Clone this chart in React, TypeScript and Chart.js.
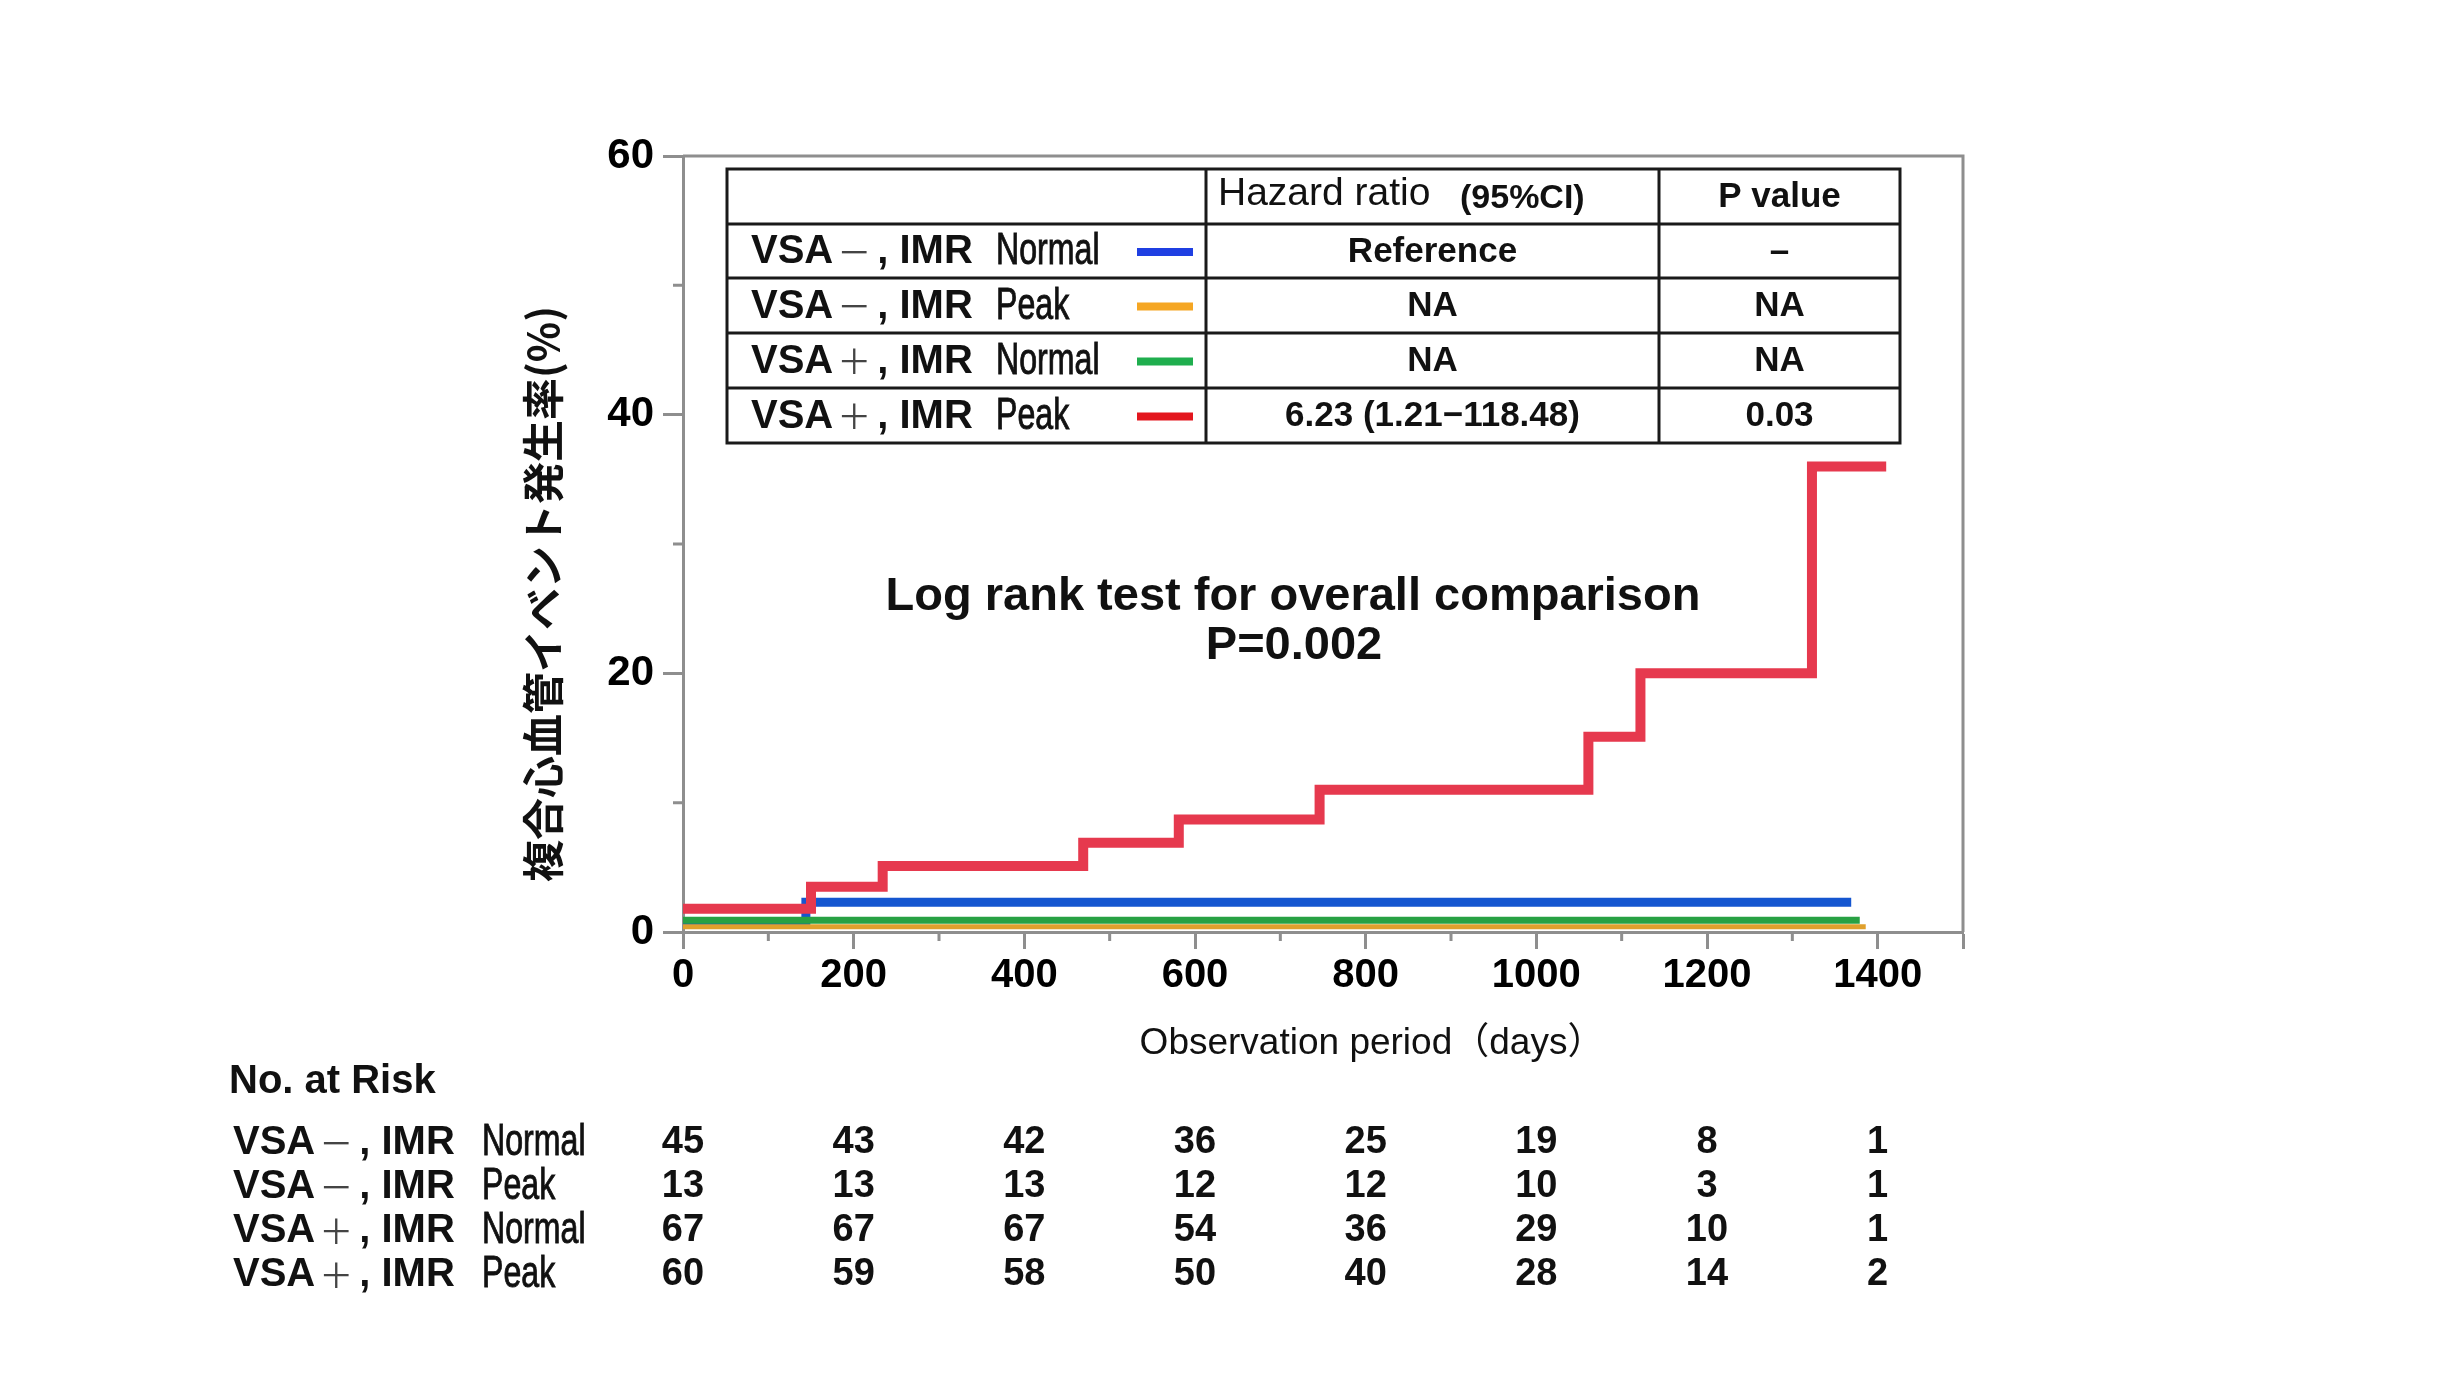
import React, { useEffect, useRef } from 'react';
import { Chart, registerables } from 'chart.js';

Chart.register(...registerables);

// ---------- data ----------
const groupLabels = ['VSA－, IMR', 'VSA－, IMR', 'VSA＋, IMR', 'VSA＋, IMR'];
const groupSubLabels = ['Normal', 'Peak', 'Normal', 'Peak'];
const seriesColors = ['#1556d0', '#e0a02c', '#28a143', '#e6394e'];
const swatchColors = ['#1f3fe2', '#f5a623', '#1fae4e', '#e3161e'];

const normalNegDays = [0, 144, 1369];
const normalNegPct = [0.8, 2.3, 2.3];
const peakNegDays = [0, 1386];
const peakNegPct = [0.4, 0.4];
const normalPosDays = [0, 1379];
const normalPosPct = [0.9, 0.9];
const peakPosDays = [0, 150, 234, 469, 581, 746, 1061, 1122, 1323, 1410];
const peakPosPct = [1.8, 3.5, 5.1, 6.9, 8.7, 11.0, 15.1, 20.0, 36.0, 36.0];

const hazardRatios = ['Reference', 'NA', 'NA', '6.23 (1.21−118.48)'];
const pValues = ['–', 'NA', 'NA', '0.03'];

const riskDays = [0, 200, 400, 600, 800, 1000, 1200, 1400];
const riskNormalNeg = [45, 43, 42, 36, 25, 19, 8, 1];
const riskPeakNeg = [13, 13, 13, 12, 12, 10, 3, 1];
const riskNormalPos = [67, 67, 67, 54, 36, 29, 10, 1];
const riskPeakPos = [60, 59, 58, 50, 40, 28, 14, 2];

const yTitle = '複合心血管イベント発生率(%)';
const xTitle = 'Observation period（days）';
const logRankLines = ['Log rank test for overall comparison', 'P=0.002'];
const riskTitle = 'No. at Risk';
const hrHeader = 'Hazard ratio';
const ciHeader = '(95%CI)';
const pHeader = 'P value';

// ---------- helpers ----------
const FONT = '"Liberation Sans", Arial, "Noto Sans CJK JP", sans-serif';
const CJK = '"Noto Sans CJK JP", "Noto Sans CJK SC", sans-serif';
const AXIS_GRAY = '#8e8e8e';
const INK = '#111';

const zip = (xs: number[], ys: number[]) => xs.map((x, i) => ({ x, y: ys[i] }));

function narrowText(ctx: CanvasRenderingContext2D, text: string, x: number, y: number, sx: number) {
  ctx.save();
  ctx.translate(x, y);
  ctx.scale(sx, 1);
  ctx.textAlign = 'left';
  ctx.fillText(text, 0, 0);
  ctx.lineWidth = 0.9;
  ctx.strokeStyle = ctx.fillStyle as string;
  ctx.strokeText(text, 0, 0);
  ctx.restore();
}

function groupLabel(ctx: CanvasRenderingContext2D, label: string, x: number, y: number) {
  const head = label.slice(0, 3);
  const sign = label.slice(3, 4);
  const rest = label.slice(4);
  ctx.save();
  ctx.textAlign = 'left';
  ctx.fillStyle = INK;
  ctx.font = `bold 40px ${FONT}`;
  ctx.fillText(head, x, y);
  const w = ctx.measureText(head).width;
  ctx.font = `400 34px ${CJK}`;
  ctx.fillStyle = '#444';
  ctx.textAlign = 'center';
  ctx.fillText(sign, x + w + 21, y);
  ctx.fillStyle = INK;
  ctx.textAlign = 'left';
  ctx.font = `bold 40px ${FONT}`;
  ctx.fillText(rest, x + w + 44, y);
  ctx.restore();
}

const overlayPlugin = {
  id: 'overlay',
  afterDraw(chart: any) {
    const ctx: CanvasRenderingContext2D = chart.ctx;
    const area = chart.chartArea;
    const xs = chart.scales.x;
    const ys = chart.scales.y;
    ctx.save();

    // frame top & right
    ctx.strokeStyle = AXIS_GRAY;
    ctx.lineWidth = 3;
    ctx.beginPath();
    ctx.moveTo(area.left, area.top);
    ctx.lineTo(area.right, area.top);
    ctx.lineTo(area.right, area.bottom);
    ctx.stroke();

    // minor ticks
    ctx.beginPath();
    xs.ticks.forEach((t: any) => {
      const v = t.value;
      if (v % 200 !== 0 && v !== 1500) {
        const px = xs.getPixelForValue(v);
        ctx.moveTo(px, area.bottom);
        ctx.lineTo(px, area.bottom + 9);
      }
    });
    ys.ticks.forEach((t: any) => {
      const v = t.value;
      if (v % 20 !== 0) {
        const py = ys.getPixelForValue(v);
        ctx.moveTo(area.left, py);
        ctx.lineTo(area.left - 10, py);
      }
    });
    ctx.stroke();

    ctx.fillStyle = INK;

    // y title
    ctx.save();
    ctx.translate(543, 594);
    ctx.rotate(-Math.PI / 2);
    ctx.font = `bold 42px ${CJK}`;
    ctx.textAlign = 'center';
    ctx.textBaseline = 'middle';
    ctx.fillText(yTitle, 0, 0);
    ctx.restore();

    // x title
    ctx.font = `37px ${FONT}`;
    ctx.textAlign = 'center';
    ctx.textBaseline = 'middle';
    ctx.fillText(xTitle, 1372, 1044);

    // log rank annotation
    ctx.font = `bold 47px ${FONT}`;
    ctx.fillText(logRankLines[0], 1293, 597);
    ctx.fillText(logRankLines[1], 1294, 646);

    // ---- hazard table ----
    const L = 727, R = 1900, C1 = 1206, C2 = 1659;
    const rows = [169, 224, 278, 333, 388, 443];
    ctx.fillStyle = '#fff';
    ctx.fillRect(L, rows[0], R - L, rows[5] - rows[0]);
    ctx.strokeStyle = '#1a1a1a';
    ctx.lineWidth = 3;
    ctx.strokeRect(L, rows[0], R - L, rows[5] - rows[0]);
    ctx.beginPath();
    for (let i = 1; i < 5; i++) {
      ctx.moveTo(L, rows[i]);
      ctx.lineTo(R, rows[i]);
    }
    ctx.moveTo(C1, rows[0]);
    ctx.lineTo(C1, rows[5]);
    ctx.moveTo(C2, rows[0]);
    ctx.lineTo(C2, rows[5]);
    ctx.stroke();

    ctx.fillStyle = INK;
    ctx.textBaseline = 'middle';
    ctx.textAlign = 'left';
    ctx.font = `39px ${FONT}`;
    ctx.fillText(hrHeader, 1218, 194);
    ctx.font = `bold 34px ${FONT}`;
    ctx.fillText(ciHeader, 1460, 199);
    ctx.textAlign = 'center';
    ctx.font = `bold 35px ${FONT}`;
    ctx.fillText(pHeader, (C2 + R) / 2, 197);

    for (let i = 0; i < 4; i++) {
      const cy = (rows[i + 1] + rows[i + 2]) / 2 + 1;
      groupLabel(ctx, groupLabels[i], 751, cy);
      ctx.fillStyle = INK;
      ctx.font = `44px ${FONT}`;
      narrowText(ctx, groupSubLabels[i], 996, cy, 0.73);
      ctx.fillStyle = swatchColors[i];
      ctx.fillRect(1137, cy - 4, 56, 8);
      ctx.fillStyle = INK;
      ctx.textAlign = 'center';
      ctx.font = `bold 35px ${FONT}`;
      ctx.fillText(hazardRatios[i], (C1 + C2) / 2, cy);
      ctx.fillText(pValues[i], (C2 + R) / 2, cy);
    }

    // ---- number at risk ----
    ctx.textAlign = 'left';
    ctx.fillStyle = INK;
    ctx.font = `bold 40px ${FONT}`;
    ctx.fillText(riskTitle, 229, 1082);
    const riskRows = [riskNormalNeg, riskPeakNeg, riskNormalPos, riskPeakPos];
    const riskY = [1143, 1187, 1231, 1275];
    riskRows.forEach((vals, r) => {
      const cy = riskY[r];
      groupLabel(ctx, groupLabels[r], 233, cy);
      ctx.fillStyle = INK;
      ctx.font = `44px ${FONT}`;
      narrowText(ctx, groupSubLabels[r], 482, cy, 0.73);
      ctx.textAlign = 'center';
      ctx.font = `bold 38px ${FONT}`;
      vals.forEach((v, k) => {
        ctx.fillText(String(v), xs.getPixelForValue(riskDays[k]), cy);
      });
    });

    ctx.restore();
  },
};

export default function App() {
  const ref = useRef<HTMLCanvasElement | null>(null);

  useEffect(() => {
    if (!ref.current) return;
    const common = {
      stepped: 'before' as const,
      pointRadius: 0,
      pointHoverRadius: 0,
      fill: false,
      tension: 0,
      borderJoinStyle: 'miter' as const,
      borderCapStyle: 'butt' as const,
      clip: 0,
    };
    const chart = new Chart(ref.current, {
      type: 'line',
      data: {
        datasets: [
          { ...common, label: 'VSA＋, IMR Peak', data: zip(peakPosDays, peakPosPct), borderColor: seriesColors[3], borderWidth: 10, order: 0 },
          { ...common, label: 'VSA－, IMR Peak', data: zip(peakNegDays, peakNegPct), borderColor: seriesColors[1], borderWidth: 5, order: 1 },
          { ...common, label: 'VSA＋, IMR Normal', data: zip(normalPosDays, normalPosPct), borderColor: seriesColors[2], borderWidth: 7, order: 2 },
          { ...common, label: 'VSA－, IMR Normal', data: zip(normalNegDays, normalNegPct), borderColor: seriesColors[0], borderWidth: 9, order: 3 },
        ] as any,
      },
      options: {
        animation: false,
        responsive: true,
        maintainAspectRatio: false,
        parsing: false as any,
        layout: { padding: { left: 0, top: 156, right: 477, bottom: 0 }, autoPadding: false },
        plugins: { legend: { display: false }, tooltip: { enabled: false } },
        events: [],
        scales: {
          x: {
            type: 'linear',
            min: 0,
            max: 1500,
            afterFit: (s: any) => { s.height = 441; },
            border: { display: true, color: AXIS_GRAY, width: 3 },
            grid: {
              drawOnChartArea: false,
              drawTicks: true,
              tickLength: 17,
              tickWidth: 3,
              tickColor: (c: any) => (c.tick && (c.tick.value % 200 === 0 || c.tick.value === 1500) ? AXIS_GRAY : 'rgba(0,0,0,0)'),
            },
            ticks: {
              stepSize: 100,
              autoSkip: false,
              maxRotation: 0,
              padding: 3,
              color: '#000',
              font: { family: FONT, size: 40, weight: 'bold' },
              callback: (v: any) => (v % 200 === 0 && v <= 1400 ? String(v) : ''),
            },
          },
          y: {
            type: 'linear',
            min: 0,
            max: 60,
            afterFit: (s: any) => { s.width = 683; },
            border: { display: true, color: AXIS_GRAY, width: 3 },
            grid: {
              drawOnChartArea: false,
              drawTicks: true,
              tickLength: 20,
              tickWidth: 3,
              tickColor: (c: any) => (c.tick && c.tick.value % 20 === 0 ? AXIS_GRAY : 'rgba(0,0,0,0)'),
            },
            ticks: {
              stepSize: 10,
              autoSkip: false,
              padding: 9,
              color: '#000',
              font: { family: FONT, size: 42, weight: 'bold' },
              callback: (v: any) => (v % 20 === 0 ? String(v) : ''),
            },
          },
        },
      } as any,
      plugins: [overlayPlugin],
    });
    return () => chart.destroy();
  }, []);

  return (
    <div style={{ position: 'absolute', left: 0, top: 0, width: 2440, height: 1373, background: '#fff' }}>
      <canvas ref={ref} />
    </div>
  );
}
